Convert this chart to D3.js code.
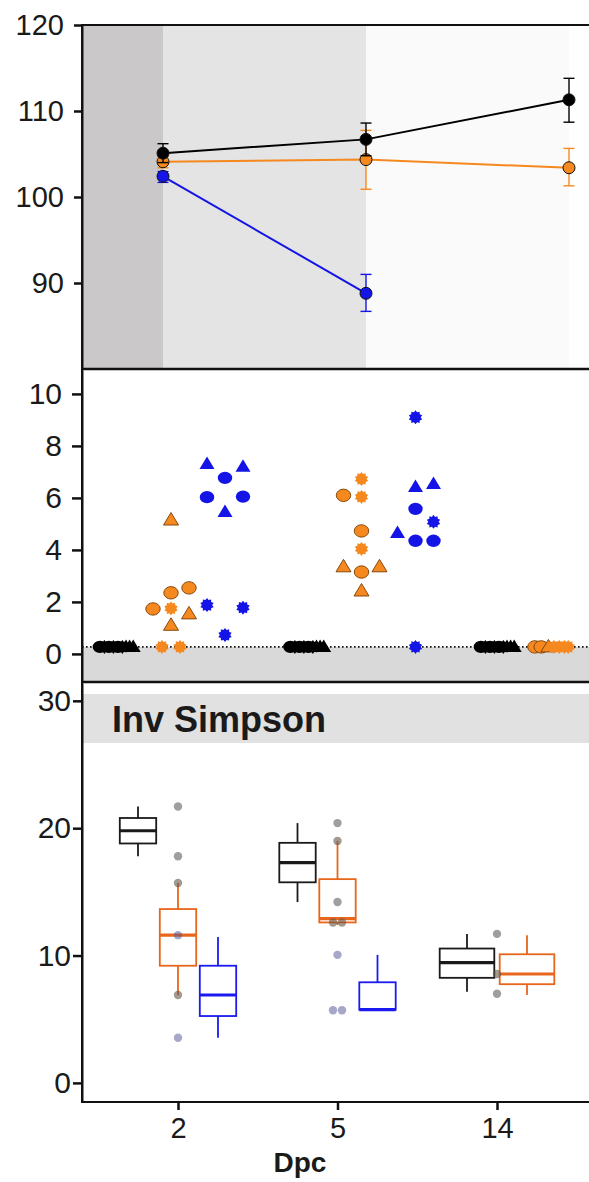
<!DOCTYPE html>
<html>
<head>
<meta charset="utf-8">
<script src="https://cdn.jsdelivr.net/npm/d3@7"></script>
<style>
  body { margin: 0; background: #fff; }
  svg { display: block; font-family: "Liberation Sans", Arial, sans-serif; }
</style>
</head>
<body>
<div id="chart"></div>
<script>
// ---- data ----
const days = ['2', '5', '14']
const groups = ['G1', 'G2', 'G3']

// panel 1: mean with error bars, per group, per day
const g1Mean = [105.1, 106.7, 111.3]
const g1Lo = [104.0, 104.8, 108.7]
const g1Hi = [106.2, 108.6, 113.8]
const g2Mean = [104.1, 104.35, 103.4]
const g2Lo = [103.4, 100.9, 101.3]
const g2Hi = [104.7, 107.75, 105.65]
const g3Mean = [102.4, 88.8, null]
const g3Lo = [101.7, 86.7, null]
const g3Hi = [102.96, 91.0, null]
const p1Ticks = [90, 100, 110, 120]

// panel 2: individual points [day, group, shape, slot, value]
const p2Points = [
  ['2', 'G1', 'circle', -0.95, 0.27], ['2', 'G1', 'star', -0.7, 0.27], ['2', 'G1', 'circle', -0.45, 0.27],
  ['2', 'G1', 'star', -0.2, 0.27], ['2', 'G1', 'circle', 0.05, 0.27], ['2', 'G1', 'star', 0.3, 0.27],
  ['2', 'G1', 'triangle', 0.5, 0.27], ['2', 'G1', 'triangle', 0.7, 0.27], ['2', 'G1', 'triangle', 0.9, 0.27],
  ['2', 'G2', 'circle', -1, 1.73], ['2', 'G2', 'star', 0, 1.75], ['2', 'G2', 'circle', 0, 2.35],
  ['2', 'G2', 'circle', 1, 2.54], ['2', 'G2', 'triangle', 0, 5.15], ['2', 'G2', 'triangle', 1, 1.54],
  ['2', 'G2', 'triangle', 0, 1.1], ['2', 'G2', 'star', -0.5, 0.27], ['2', 'G2', 'star', 0.5, 0.27],
  ['2', 'G3', 'triangle', -1, 7.3], ['2', 'G3', 'triangle', 1, 7.2], ['2', 'G3', 'circle', 0, 6.77],
  ['2', 'G3', 'circle', -1, 6.03], ['2', 'G3', 'circle', 1, 6.05], ['2', 'G3', 'triangle', 0, 5.46],
  ['2', 'G3', 'star', -1, 1.88], ['2', 'G3', 'star', 1, 1.78], ['2', 'G3', 'star', 0, 0.73],
  ['5', 'G1', 'circle', -0.95, 0.27], ['5', 'G1', 'star', -0.7, 0.27], ['5', 'G1', 'circle', -0.45, 0.27],
  ['5', 'G1', 'star', -0.2, 0.27], ['5', 'G1', 'circle', 0.05, 0.27], ['5', 'G1', 'star', 0.3, 0.27],
  ['5', 'G1', 'triangle', 0.5, 0.27], ['5', 'G1', 'triangle', 0.7, 0.27], ['5', 'G1', 'triangle', 0.9, 0.27],
  ['5', 'G2', 'star', 0, 6.73], ['5', 'G2', 'circle', -1, 6.1], ['5', 'G2', 'star', 0, 6.04],
  ['5', 'G2', 'circle', 0, 4.73], ['5', 'G2', 'star', 0, 4.04], ['5', 'G2', 'triangle', -1, 3.35],
  ['5', 'G2', 'triangle', 1, 3.35], ['5', 'G2', 'circle', 0, 3.15], ['5', 'G2', 'triangle', 0, 2.42],
  ['5', 'G3', 'star', 0, 9.1], ['5', 'G3', 'triangle', 0, 6.42], ['5', 'G3', 'triangle', 1, 6.54],
  ['5', 'G3', 'circle', 0, 5.58], ['5', 'G3', 'star', 1, 5.08], ['5', 'G3', 'triangle', -1, 4.65],
  ['5', 'G3', 'circle', 0, 4.35], ['5', 'G3', 'circle', 1, 4.35], ['5', 'G3', 'star', 0, 0.27],
  ['14', 'G1', 'circle', -0.95, 0.27], ['14', 'G1', 'star', -0.7, 0.27], ['14', 'G1', 'circle', -0.45, 0.27],
  ['14', 'G1', 'star', -0.2, 0.27], ['14', 'G1', 'circle', 0.05, 0.27], ['14', 'G1', 'star', 0.3, 0.27],
  ['14', 'G1', 'triangle', 0.5, 0.27], ['14', 'G1', 'triangle', 0.7, 0.27], ['14', 'G1', 'triangle', 0.9, 0.27],
  ['14', 'G2', 'circle', -0.95, 0.27], ['14', 'G2', 'circle', -0.6, 0.27], ['14', 'G2', 'triangle', -0.2, 0.27],
  ['14', 'G2', 'star', 0.1, 0.27], ['14', 'G2', 'star', 0.4, 0.27], ['14', 'G2', 'star', 0.7, 0.27],
  ['14', 'G2', 'star', 0.9, 0.27]
]
const p2Ticks = [0, 2, 4, 6, 8, 10]
const detectLimit = 0.27

// panel 3: box stats [day, group, whiskerLo, q1, median, q3, whiskerHi]
const p3Boxes = [
  ['2', 'G1', 17.8, 18.8, 19.8, 20.8, 21.7],
  ['2', 'G2', 6.9, 9.2, 11.6, 13.65, 15.7],
  ['2', 'G3', 3.55, 5.25, 6.9, 9.2, 11.45],
  ['5', 'G1', 14.2, 15.75, 17.3, 18.85, 20.4],
  ['5', 'G2', 12.4, 12.6, 12.9, 16.0, 19.0],
  ['5', 'G3', 5.75, 5.75, 5.75, 7.9, 10.05],
  ['14', 'G1', 7.15, 8.25, 9.45, 10.55, 11.7],
  ['14', 'G2', 6.9, 7.75, 8.55, 10.1, 11.6]
]
// panel 3 raw points [day, group, jitter, value]
const p3Points = [
  ['2', 'G1', 0, 21.7], ['2', 'G1', 0, 17.8], ['2', 'G2', 0, 15.7], ['2', 'G3', 0, 11.6],
  ['2', 'G2', 0, 6.9], ['2', 'G3', 0, 3.55],
  ['5', 'G1', 0, 20.4], ['5', 'G2', 0, 19.0], ['5', 'G1', 0, 14.2], ['5', 'G2', -0.5, 12.6],
  ['5', 'G2', 0.5, 12.6], ['5', 'G3', 0, 10.05], ['5', 'G3', -0.5, 5.7], ['5', 'G3', 0.5, 5.7],
  ['14', 'G1', 0, 11.7], ['14', 'G2', 0, 8.55], ['14', 'G1', 0, 7.0]
]
const p3Ticks = [0, 10, 20, 30]
const stripLabel = 'Inv Simpson'
const xLabel = 'Dpc'

// ---- styles ----
const lineColor = { G1: '#000000', G2: '#f5891f', G3: '#1414e6' }
const boxColor = { G1: '#1a1a1a', G2: '#e8661c', G3: '#1a1af0' }
const ptStroke = { G1: '#000000', G2: '#7a3d00', G3: '#0a0aa0' }
const dotColor = { G1: 'rgba(80,80,80,0.55)', G2: 'rgba(100,85,70,0.6)', G3: 'rgba(80,80,150,0.5)' }

const W = 589
const H = 1182
const xLeft = 82
const font = '"Liberation Sans", Arial, sans-serif'

const svg = d3.select('#chart').append('svg')
  .attr('width', W)
  .attr('height', H)

function styleAxis (g, size) {
  g.selectAll('.tick line').attr('stroke', '#111').attr('stroke-width', 2.5)
  g.selectAll('.tick text').attr('fill', '#1a1a1a').style('font-size', size + 'px').style('font-family', font)
  g.select('.domain').attr('stroke', '#111').attr('stroke-width', 2)
}

// ================= panel 1 =================
const y1 = d3.scaleLinear([80, 120], [369, 25])
const x1 = d3.scalePoint(days, [163, 569])

const bands = [
  [xLeft, x1('2'), '#cbc8c9'],
  [x1('2'), x1('5'), '#e4e4e4'],
  [x1('5'), x1('14'), '#fafafa']
]
svg.append('g').selectAll('rect').data(bands).enter().append('rect')
  .attr('x', d => d[0]).attr('width', d => d[1] - d[0])
  .attr('y', y1.range()[1]).attr('height', y1.range()[0] - y1.range()[1])
  .attr('fill', d => d[2])

const p1Series = [
  { key: 'G3', mean: g3Mean, lo: g3Lo, hi: g3Hi },
  { key: 'G2', mean: g2Mean, lo: g2Lo, hi: g2Hi },
  { key: 'G1', mean: g1Mean, lo: g1Lo, hi: g1Hi }
]
const line1 = d3.line()
  .defined(d => d.v != null)
  .x(d => x1(d.day))
  .y(d => y1(d.v))

p1Series.forEach(s => {
  const rows = days.map((day, i) => ({ day, v: s.mean[i], lo: s.lo[i], hi: s.hi[i] }))
    .filter(r => r.v != null)
  const g = svg.append('g')
  g.append('path').datum(rows)
    .attr('d', line1).attr('fill', 'none')
    .attr('stroke', lineColor[s.key]).attr('stroke-width', 2)
  const eb = g.selectAll('.eb').data(rows).enter().append('g')
    .attr('stroke', lineColor[s.key]).attr('stroke-width', 1.4)
  eb.append('line').attr('x1', d => x1(d.day)).attr('x2', d => x1(d.day))
    .attr('y1', d => y1(d.lo)).attr('y2', d => y1(d.hi))
  eb.append('line').attr('x1', d => x1(d.day) - 5.5).attr('x2', d => x1(d.day) + 5.5)
    .attr('y1', d => y1(d.lo)).attr('y2', d => y1(d.lo))
  eb.append('line').attr('x1', d => x1(d.day) - 5.5).attr('x2', d => x1(d.day) + 5.5)
    .attr('y1', d => y1(d.hi)).attr('y2', d => y1(d.hi))
  g.selectAll('circle').data(rows).enter().append('circle')
    .attr('cx', d => x1(d.day)).attr('cy', d => y1(d.v))
    .attr('r', 6).attr('fill', lineColor[s.key])
    .attr('stroke', '#111').attr('stroke-width', 1)
})

svg.append('g')
  .attr('transform', `translate(${xLeft},0)`)
  .call(d3.axisLeft(y1).tickValues(p1Ticks).tickSize(8).tickPadding(10).tickSizeOuter(0))
  .call(g => styleAxis(g, 29))

// ================= panel 2 =================
const y2 = d3.scaleLinear([-1.08, 10.92], [682, 370])
const x2 = d3.scalePoint(days, [171, 552])
const gOff = d3.scalePoint(groups, [-54, 54])
const slotW = 18

svg.append('rect')
  .attr('x', xLeft).attr('width', W - xLeft)
  .attr('y', y2(detectLimit)).attr('height', y2.range()[0] - y2(detectLimit))
  .attr('fill', '#d9d9d9')
svg.append('line')
  .attr('x1', xLeft).attr('x2', W)
  .attr('y1', y2(detectLimit)).attr('y2', y2(detectLimit))
  .attr('stroke', '#111').attr('stroke-width', 1.6).attr('stroke-dasharray', '1.6,2.4')

function starPath (ro, ri, n) {
  const pts = d3.range(n * 2).map(i => {
    const a = Math.PI * i / n
    const r = i % 2 ? ri : ro
    return [r * Math.sin(a), -r * Math.cos(a)]
  })
  return 'M' + pts.join('L') + 'Z'
}
const shapePath = {
  star: starPath(7, 5.2, 10),
  triangle: 'M0,-7.5L7.5,5L-7.5,5Z'
}

const p2 = svg.append('g')
p2Points.forEach(([day, grp, shape, slot, v]) => {
  const cx = x2(day) + gOff(grp) + slot * slotW
  const cy = y2(v)
  const stroke = grp === 'G2' && shape !== 'star' ? ptStroke[grp] : 'none'
  if (shape === 'circle') {
    p2.append('ellipse').attr('cx', cx).attr('cy', cy).attr('rx', 7.2).attr('ry', 6.2)
      .attr('fill', lineColor[grp]).attr('stroke', stroke).attr('stroke-width', 0.9)
  } else {
    p2.append('path').attr('d', shapePath[shape])
      .attr('transform', `translate(${cx},${cy})`)
      .attr('fill', lineColor[grp]).attr('stroke', stroke).attr('stroke-width', 0.9)
  }
})

svg.append('g')
  .attr('transform', `translate(${xLeft},0)`)
  .call(d3.axisLeft(y2).tickValues(p2Ticks).tickSize(10).tickPadding(10).tickSizeOuter(0))
  .call(g => styleAxis(g, 30))

// ================= panel 3 =================
const y3 = d3.scaleLinear([-1.5, 31.4], [1102, 683])
const x3 = d3.scalePoint(days, [178, 497])
const dodgeTotal = 120

svg.append('rect')
  .attr('x', xLeft + 1).attr('width', W - xLeft)
  .attr('y', 694).attr('height', 49)
  .attr('fill', '#e1e1e1')
svg.append('text')
  .attr('x', 112).attr('y', 732)
  .attr('font-size', 36).attr('font-weight', 'bold').attr('fill', '#1a1a1a')
  .text(stripLabel)

function boxX (day, grp) {
  const present = p3Boxes.filter(b => b[0] === day).map(b => b[1])
  const n = present.length
  const w = dodgeTotal / n
  const i = present.indexOf(grp)
  return { c: x3(day) + (i - (n - 1) / 2) * w, w: w * 0.91 }
}

const p3 = svg.append('g')
p3Boxes.forEach(([day, grp, wl, q1, med, q3, wh]) => {
  const { c, w } = boxX(day, grp)
  const col = boxColor[grp]
  const g = p3.append('g').attr('stroke', col).attr('fill', 'none')
  g.append('line').attr('x1', c).attr('x2', c).attr('y1', y3(wh)).attr('y2', y3(q3)).attr('stroke-width', 1.8)
  g.append('line').attr('x1', c).attr('x2', c).attr('y1', y3(q1)).attr('y2', y3(wl)).attr('stroke-width', 1.8)
  g.append('rect').attr('x', c - w / 2).attr('width', w)
    .attr('y', y3(q3)).attr('height', y3(q1) - y3(q3))
    .attr('stroke-width', 1.8)
  g.append('line').attr('x1', c - w / 2).attr('x2', c + w / 2)
    .attr('y1', y3(med)).attr('y2', y3(med)).attr('stroke-width', 3.2)
})

p3.selectAll('.dot').data(p3Points).enter().append('circle')
  .attr('cx', d => x3(d[0]) + d[2] * 9)
  .attr('cy', d => y3(d[3]))
  .attr('r', 4.2)
  .attr('fill', d => dotColor[d[1]])

svg.append('g')
  .attr('transform', `translate(${xLeft},0)`)
  .call(d3.axisLeft(y3).tickValues(p3Ticks).tickSize(9).tickPadding(2).tickSizeOuter(0))
  .call(g => styleAxis(g, 30))

svg.append('g')
  .attr('transform', 'translate(0,1102)')
  .call(d3.axisBottom(x3).tickSize(8).tickPadding(7).tickSizeOuter(0))
  .call(g => styleAxis(g, 29))
  .call(g => g.select('.domain').attr('d', `M${xLeft},0H${W}`))

svg.append('text')
  .attr('x', 300).attr('y', 1172)
  .attr('text-anchor', 'middle')
  .attr('font-size', 28).attr('font-weight', 'bold').attr('fill', '#1a1a1a')
  .text(xLabel)

// ---- panel borders ----
const borders = [[25, 2], [369, 2.6], [682, 2.6]]
svg.append('g').selectAll('line').data(borders).enter().append('line')
  .attr('x1', xLeft).attr('x2', W)
  .attr('y1', d => d[0]).attr('y2', d => d[0])
  .attr('stroke', '#111').attr('stroke-width', d => d[1])
svg.append('line')
  .attr('x1', xLeft).attr('x2', xLeft).attr('y1', 24).attr('y2', 1103)
  .attr('stroke', '#111').attr('stroke-width', 2)
</script>
</body>
</html>
